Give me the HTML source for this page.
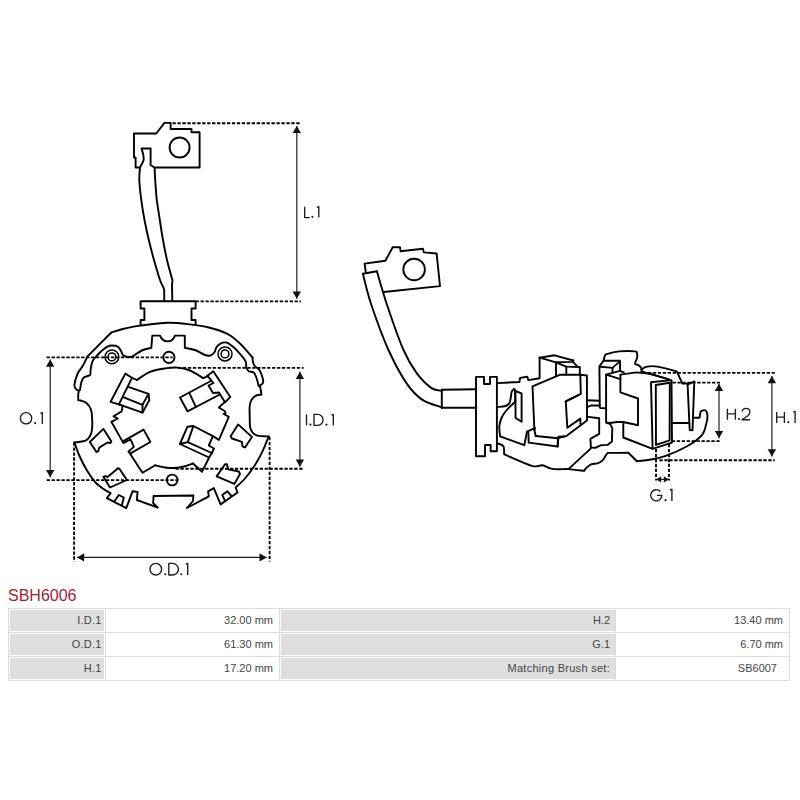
<!DOCTYPE html>
<html><head><meta charset="utf-8">
<style>
html,body{margin:0;padding:0;background:#fff;width:800px;height:800px;overflow:hidden}
body{position:relative;font-family:"Liberation Sans",sans-serif}
svg{position:absolute;left:0;top:0}
.t{position:absolute;white-space:nowrap}
.lbl{font-size:17px;line-height:17px;color:#1a1a1a;letter-spacing:-0.8px}
#title{left:8px;top:586.5px;font-size:16px;color:#a01d36}
.h{position:absolute;background:#dcdcdc;height:1px}
.v{position:absolute;background:#dcdcdc;width:1px}
.g{position:absolute;background:#dedede}
.c{position:absolute;font-size:11px;color:#444;text-align:right;line-height:12px}
</style></head><body>
<svg width="800" height="800" viewBox="0 0 800 800">
<g fill="none" stroke="#000" stroke-width="1.9" stroke-linejoin="round" stroke-linecap="round">
<path d="M134,133.5 H156.3 L164.4,122.9 H170.6 V129 H191.5 V132.3 H199.6 V167.5 H154.4 L150.6,165 V148.5 H141.5 C142.6,152 144.6,157 143.4,161 L140,167.5 H135.6 V157.5 H134 Z"/>
<path d="M140.0,167.5 C139.9,169.6 139.1,174.6 139.3,180.0 C139.5,185.4 140.4,193.3 141.3,200.0 C142.2,206.7 143.2,213.3 144.5,220.0 C145.8,226.7 147.2,233.3 148.8,240.0 C150.4,246.7 152.1,253.3 154.0,260.0 C155.9,266.7 158.4,275.4 160.0,280.0 C161.6,284.6 162.9,286.2 163.5,287.5 L164.2,290 L164.3,301"/>
<path d="M154.6,167.8 C154.7,169.8 154.8,174.6 155.2,180.0 C155.6,185.4 156.1,194.0 156.8,200.0 C157.5,206.0 158.2,209.3 159.2,216.0 C160.2,222.7 161.7,232.7 163.0,240.0 C164.3,247.3 165.4,253.2 167.0,260.0 C168.6,266.8 171.6,277.1 172.5,280.5 L172,285 L172.3,301"/>
<path d="M140.6,324.8 V320 H144.4 V308.5 H140.6 V301.3 H195.6 V308.5 H191.5 V320 H195.6 V324.8"/>
<path d="M111.3,332.5 C113.6,331.8 120.2,329.6 125.0,328.5 C129.8,327.4 132.9,326.6 140.0,325.6 C147.1,324.7 159.2,323.0 167.5,322.8 C175.8,322.6 183.1,323.6 190.0,324.4 C196.9,325.2 202.6,325.9 208.8,327.5 C215.1,329.1 222.7,331.5 227.5,333.8 C232.3,336.1 234.6,338.8 237.5,341.3 C240.4,343.8 242.5,346.1 245.0,348.8 C247.5,351.5 251.2,356.1 252.5,357.5"/>
<path d="M252.5,357.5 C252.6,358.3 252.7,361.0 253.1,362.5 C253.5,364.0 253.9,365.1 255.0,366.3 C256.1,367.6 258.1,368.1 259.4,370.0 C260.6,371.9 261.9,375.4 262.5,377.5 C263.1,379.6 263.5,381.1 263.1,382.5 C262.7,383.9 260.5,385.1 260.0,385.6"/>
<path d="M260,385.6 L261.5,394.6 C260.6,394.8 257.6,394.7 256.0,395.6 C254.3,396.5 252.7,398.1 251.6,399.8 C250.5,401.5 250.0,403.3 249.7,406.0 C249.4,408.7 249.6,412.5 249.7,416.0 C249.8,419.5 249.6,424.3 250.1,427.0 C250.6,429.7 251.2,430.9 252.4,432.4 C253.6,433.8 255.7,435.1 257.5,435.7 C259.3,436.3 261.1,436.1 263.0,436.2 C264.9,436.3 267.7,436.4 268.6,436.4"/>
<path d="M268.6,436.4 C267.6,438.9 264.8,446.5 262.5,451.3 C260.2,456.1 257.9,460.5 255.0,465.0 C252.1,469.5 248.2,474.8 245.0,478.5 C241.8,482.2 237.2,486.0 235.6,487.5 L237.5,492.5 L220.6,504.4 L213.8,488.1 L208.1,491.3 L208.8,496.3 L186.9,508 L193,501 L193.4,495.5 L153.6,496 L153.1,503 L157.8,507.7 L136.9,500 L137.5,491.9 L132.5,491.3 L126.3,508.1 L106.9,498.1 L110.6,493.1 L105,490"/>
<path d="M105.0,490.0 C103.5,488.8 99.0,486.2 96.0,483.0 C93.0,479.8 89.8,475.0 87.0,470.5 C84.2,466.0 81.6,460.7 79.5,456.0 C77.4,451.3 75.2,444.8 74.4,442.5"/>
<path d="M74.4,442.5 C75.7,442.3 80.0,441.9 82.0,441.5 C84.0,441.1 84.9,441.1 86.1,440.3 C87.3,439.6 88.5,438.4 89.4,437.0 C90.3,435.6 91.1,434.0 91.6,432.0 C92.1,430.0 92.2,427.3 92.3,425.0 C92.4,422.7 92.3,420.6 92.1,418.0 C91.9,415.4 91.9,412.1 91.0,409.6 C90.1,407.1 88.2,404.5 86.5,403.0 C84.8,401.5 82.0,401.0 80.6,400.5 C79.2,400.0 78.6,400.2 78.2,400.2 L78.2,395 L78.8,390.6"/>
<path d="M78.8,390.6 C78.4,390.4 77.0,390.3 76.3,389.4 C75.6,388.5 74.2,387.6 74.4,385.0 C74.6,382.4 76.2,376.9 77.5,373.8 C78.8,370.7 80.8,369.2 82.5,366.3 C84.2,363.4 86.7,358.0 87.5,356.3 L111.3,332.5"/>
<path d="M80.0,390.0 C80.2,388.8 80.7,384.6 81.3,382.5 C81.9,380.4 82.3,378.8 83.8,377.5 C85.2,376.2 88.9,376.2 90.0,375.0 C91.1,373.8 90.2,372.3 90.6,370.0 C91.0,367.7 91.3,363.8 92.5,361.3 C93.7,358.8 96.1,356.6 97.5,355.0 C98.9,353.4 99.4,352.9 101.0,351.5 C102.6,350.1 105.1,347.8 106.9,346.8 C108.7,345.8 110.2,345.5 112.0,345.5 C113.8,345.5 116.5,345.9 118.0,346.8 C119.5,347.7 120.1,349.6 121.0,351.0 C121.9,352.4 122.1,354.3 123.2,355.3 C124.3,356.3 126.0,356.7 127.5,356.9 C129.1,357.1 131.0,356.8 132.5,356.3 C134.0,355.8 134.6,354.9 136.3,353.8 C138.1,352.8 140.5,351.0 143.0,350.0 C145.5,349.0 149.9,348.2 151.3,347.8 L152.3,335.6 L160,335.6 C162,341 166,341.5 168.8,341.3 C172,341 174,338 175,335.6 L184.8,335.6 L184.8,347.8 C186.5,348.2 191.6,348.8 195.0,350.0 C198.4,351.2 202.5,354.1 205.0,355.0 C207.5,355.9 208.4,356.0 210.0,355.6 C211.6,355.2 213.3,353.9 214.4,352.5 C215.5,351.1 215.4,348.9 216.3,347.5 C217.2,346.1 218.3,344.6 220.0,343.8 C221.7,343.0 224.2,342.1 226.3,342.5 C228.4,342.9 230.2,344.4 232.5,346.3 C234.8,348.2 237.8,351.3 240.0,353.8 C242.2,356.3 244.5,359.0 245.6,361.3 C246.7,363.6 245.8,365.8 246.3,367.5 C246.8,369.2 247.6,370.5 248.8,371.3 C250.1,372.1 252.6,371.5 253.8,372.5 C255.1,373.5 255.5,375.2 256.3,377.5 C257.1,379.8 258.4,384.8 258.8,386.3"/>
<path d="M136.9,380  C139.1,378.6 145.3,373.7 150.0,371.8 C154.7,369.9 160.3,369.1 165.0,368.4 C169.7,367.7 173.8,367.2 178.0,367.6 C182.2,368.0 185.8,368.8 190.0,370.5 C194.2,372.2 200.9,376.8 203.1,378.1 L207.5,376.3"/>
<path d="M207.5,375.8 L213.3,371.3 L230.3,397.0 L225.0,402.3"/>
<path d="M207.5,375.8 L213.5,383.0 L208.5,385.5 L213.0,393.0 L219.0,392.5 L225.0,402.3"/>
<path d="M210.8,381.0 L180.0,397.5 L187.5,411.3 L219.8,394.5"/>
<path d="M189.4,393.1 L195.6,406.3"/>
<path d="M225.0,401.9 L218.8,407.5 L225.0,411.3 L225.6,413.1 L223.5,413.8 L228.8,416.9 L218.9,439.9 L212.9,436.1"/>
<path d="M193.4,426.0 L187.4,426.8 L179.9,444.0 L187.8,442.1 L193.4,426.0 L212.9,436.1 L208.8,445.5 L214.0,448.5 L211.8,453.0 L209.1,457.5 L202.0,471.8 L193.0,463.5"/>
<path d="M187.8,442.1 L211.8,453.0"/>
<path d="M179.9,444.0 L209.1,457.5"/>
<path d="M193.0,463.5 C191.5,464.0 187.0,465.8 184.0,466.5 C181.0,467.2 178.2,467.8 175.0,468.0 C171.8,468.2 168.3,467.9 165.0,467.5 C161.7,467.1 156.9,465.7 155.3,465.3"/>
<path d="M155.3,465.3 L142.5,472.8 L128.6,451.4 L133.9,446.9 L130.5,439.4 L123.4,443.1 L111.4,421.8 L117.8,418.5 L113.5,416.3 L121.6,411.5 L122.6,405.9 L118.9,404.4"/>
<path d="M123.8,440.9 L143.6,429.6 L150.4,442.0 L130.5,453.3 L128.6,451.4"/>
<path d="M125.3,373.6 L132.0,377.8 L118.9,404.4 L110.6,401.8 Z"/>
<path d="M132.0,377.8 L136.9,380.0"/>
<path d="M128.3,386.8 L148.5,393.9 L149.3,400.3 L142.5,412.6 L118.9,404.4"/>
<path d="M123.8,397.3 L142.5,404.8 L148.5,393.9"/>
<path d="M142.5,404.8 L142.5,412.6"/>
<path d="M89.8,442.0 L103.4,428.9 L111.4,441.6 L110.5,443.0 L107.6,442.5 L99.2,447.6 L98.3,451.4 L96.4,451.9 Z"/>
<path d="M103.4,476.7 L105.5,476.2 L107.5,477.0 L116.6,469.6 L117.5,468.3 L119.4,468.7 L126.9,480.0 L110.0,487.5 Z"/>
<path d="M216.6,476.4 L225.0,464.2 L226.9,464.2 L228.3,469.4 L238.8,471.5 L240.0,474.0 L234.4,483.9 Z"/>
<path d="M230.6,436.3 L238.1,424.4 L251.9,436.9 L245.0,447.5 L242.5,446.3 L241.9,441.9 L232.0,438.5 Z"/>
<path d="M114.4,501.3 L118.8,495.0 L123.8,497.5 L121.9,505.0"/>
<path d="M224.8,500.3 L222.3,495.0 L227.3,491.3 L231.5,496.0"/>
<path d="M365.7,271.5 L364.6,263.6 L385.4,260.8 L392.7,247.3 L400.0,247.3 L400.6,251.3 L423.0,248.8 L423.8,252.4 L436.6,253.5 L440.0,286.1 L383.7,292.0"/>
<path d="M362.9,273.8 L376.9,271.3"/>
<path d="M362.9,273.8 C364.3,278.9 367.0,292.0 371.3,304.7 C375.6,317.4 382.6,336.9 388.5,350.0 C394.4,363.1 401.1,375.3 406.8,383.6 C412.5,391.9 416.7,395.9 422.5,399.9 C428.3,403.8 438.6,406.1 441.8,407.3"/>
<path d="M376.9,271.3 C378.6,276.9 382.6,291.6 387.0,304.7 C391.4,317.8 398.5,338.6 403.5,350.0 C408.5,361.4 412.2,367.0 416.9,373.4 C421.6,379.8 427.4,385.2 431.5,388.1 C435.6,391.0 440.1,390.4 441.8,390.8"/>
<path d="M441.8,389.8 L441.8,407.8"/>
<path d="M441.8,389.8 L476.3,389.2"/>
<path d="M441.8,407.8 L476.3,407.8"/>
<path d="M476.0,376.9 L484.0,376.9 L484.0,384.0 L490.0,384.0 L490.0,376.9 L496.9,376.9 L496.9,451.3 L490.6,451.3 L490.6,445.0 L485.0,445.0 L485.0,456.3 L476.0,456.3 Z"/>
<path d="M496.9,383.1 L519.4,382.0 L520.1,377.9 L527.3,376.8 L528.4,380.1 L539.6,378.3 L539.6,357.7"/>
<path d="M496.9,407.1 C498.3,406.9 503.4,406.7 505.5,406.0 C507.6,405.3 508.6,404.7 509.5,403.0 C510.4,401.3 510.7,397.8 511.0,396.0 C511.3,394.2 511.2,393.5 511.5,392.5 C511.8,391.5 512.4,390.3 513.0,389.9 C513.6,389.5 514.5,388.0 514.9,389.9 C515.3,391.8 515.2,399.6 515.3,401.5"/>
<path d="M515.3,401.5 C513.8,403.0 508.6,407.8 506.3,410.5 C504.0,413.2 502.6,415.5 501.5,418.0 C500.4,420.5 499.7,423.2 499.4,425.5 C499.1,427.8 499.5,430.2 499.6,432.0 C499.7,433.8 500.1,435.7 500.2,436.4"/>
<path d="M515.3,391.0 L521.6,393.3 L521.6,421.8 L515.6,418.0 Z"/>
<path d="M500.2,436.4 L524.3,445.2 L527.0,431.6 L534.8,428.1"/>
<path d="M528.3,431.6 L528.7,442.6 L557.6,446.5 L558.0,438.2 L565.0,436.4"/>
<path d="M535.7,436.0 L558.0,438.2"/>
<path d="M497.6,443.4 C498.6,443.8 502.2,444.3 503.3,446.1 C504.4,447.9 504.1,453.0 504.2,454.4 L504.2,454.4 C508.8,456.3 525.4,464.0 531.8,465.8 C538.1,467.6 539.3,464.9 542.3,465.3 C545.3,465.7 547.2,467.6 550.0,468.3 C552.8,469.0 555.7,469.2 558.8,469.3 C561.9,469.4 564.2,468.8 568.4,469.1 C572.6,469.4 581.5,470.6 584.1,470.9 L584.1,470.9 C584.5,470.3 585.6,468.5 586.8,467.4 C588.0,466.3 589.4,465.0 591.1,464.3 C592.9,463.6 595.4,464.0 597.3,463.4 C599.2,462.8 601.0,461.8 602.5,460.4 C604.0,459.0 605.1,456.4 606.0,455.1 C606.9,453.9 607.5,453.3 607.8,452.9 L620,452.9 L628.4,452.8 L636.9,461.2"/>
<path d="M568.4,469.1 L590.7,448.6"/>
<path d="M539.6,357.7 L554.5,355.3 L573.3,360.5"/>
<path d="M539.6,357.7 L556.0,362.3 L573.0,361.9 L573.3,360.5"/>
<path d="M556.0,362.3 L556.0,375.5"/>
<path d="M557.0,362.8 L566.3,366.6 L579.8,367.0 L579.8,375.0"/>
<path d="M573.0,361.9 L577.0,366.1"/>
<path d="M566.3,366.6 L566.3,374.8"/>
<path d="M534.4,430.0 L532.5,386.3 L559.7,374.8 L580.3,374.8 L580.8,393.8 L565.8,401.3 L567.3,427.8 L580.4,418.6 L580.4,423.9"/>
<path d="M580.3,374.8 L586.9,375.5 L587.0,420.4 L566.4,436.1 L558.5,436.6 L557.6,446.6"/>
<path d="M565.5,401.6 L578.6,395.0"/>
<path d="M534.8,428.1 L534.4,430.0 L535.7,436.0"/>
<path d="M587.0,400.3 L599.2,400.7"/>
<path d="M587.5,407.0 L590.8,405.5 L599.5,405.5"/>
<path d="M588.3,416.9 L599.2,418.2 L599.2,433.9 L590.4,438.8 L590.9,447.5 L595.3,447.9 L600.5,445.3 L607.5,444.9 L611.9,441.4 L612.3,428.3 L610.1,423.9 L607.0,423.0"/>
<path d="M606.2,408.3 L600.5,408.0 L599.8,407.5 L599.4,366.4 L603.5,360.8 L620.0,360.8 L620.0,370.1"/>
<path d="M600.5,366.8 L612.5,367.9 L619.3,361.9"/>
<path d="M612.5,367.9 L612.5,372.0"/>
<path d="M603.5,360.4 C603.8,359.6 604.4,356.6 605.0,355.5 C605.6,354.4 604.9,354.7 607.3,354.0 C609.7,353.3 614.7,351.8 619.3,351.4 C623.9,351.0 632.1,351.1 635.0,351.4 C637.9,351.7 636.5,352.4 636.9,353.3 C637.3,354.2 637.6,355.2 637.3,357.0 C637.0,358.8 634.9,362.5 635.0,363.8 C635.1,365.1 637.0,364.3 638.0,364.9 C639.0,365.5 640.4,366.5 641.0,367.5 C641.6,368.5 641.7,370.3 641.8,370.9"/>
<path d="M623.3,422.0 L617.0,422.0 L610.0,423.0 L606.1,422.5 L606.1,374.6 L620.0,370.9 L623.8,372.4"/>
<path d="M606.1,374.6 L620.4,379.1"/>
<path d="M620.4,374.6 L620.4,392.3 L638.0,398.5 L638.0,425.3 L623.3,422.0 L623.3,437.5 L652.6,448.8"/>
<path d="M620.4,374.6 L636.5,372.4 L650.5,373.9 L668.9,379.3"/>
<path d="M641.3,371.4 L668.9,379.3"/>
<path d="M651.0,382.3 L671.5,380.1 L672.0,442.6 L652.6,448.8 Z"/>
<path d="M655.8,385.0 L669.8,382.8 L669.6,440.4 L656.0,444.9 Z"/>
<path d="M641.3,369.6 C642.2,369.1 644.3,367.1 647.0,366.6 C649.7,366.1 652.5,365.8 657.5,366.6 C662.5,367.4 673.6,370.6 676.8,371.4 L682.4,383.6 L688,383.6"/>
<path d="M672.4,423.0 L689.1,423.0"/>
<path d="M687.6,384.7 L694.3,381.4 L692.5,430.3 L689.7,430.0 Z"/>
<path d="M693.6,417.8 L699.5,417.8 L700.6,411.6 L700.6,411.6 C701.0,411.4 702.2,410.5 703.0,410.3 C703.8,410.1 704.9,409.9 705.6,410.4 C706.3,410.9 706.9,412.2 707.2,413.5 C707.5,414.8 707.5,416.3 707.4,418.0 C707.2,419.7 707.2,420.7 706.3,423.5 C705.4,426.3 705.2,431.1 702.1,434.8 C699.0,438.6 693.7,442.4 687.5,446.0 C681.3,449.6 671.6,453.8 665.0,456.1 C658.4,458.4 652.8,459.1 648.1,460.0 C643.4,460.9 638.8,461.0 636.9,461.2"/>
<circle cx="179.6" cy="147.5" r="10"/>
<circle cx="168.9" cy="357.4" r="5.6"/>
<circle cx="172.2" cy="480" r="5.4"/>
<circle cx="414.1" cy="269.5" r="10.8"/>
<circle stroke-width="1.5" cx="111.9" cy="356.9" r="6.9"/>
<circle stroke-width="1.5" cx="111.9" cy="356.9" r="3.9"/>
<circle stroke-width="1.5" cx="225" cy="353.9" r="7.0"/>
<circle stroke-width="1.5" cx="225" cy="353.9" r="3.9"/>
</g>
<g fill="none" stroke="#000" stroke-width="1.85" stroke-dasharray="3.3,1.65">
<line x1="172.5" y1="123.2" x2="301" y2="123.2"/>
<line x1="195.6" y1="301.4" x2="301" y2="301.4"/>
<line x1="46.6" y1="357.3" x2="172.6" y2="357.3"/>
<line x1="46.6" y1="480.1" x2="177" y2="480.1"/>
<line x1="178" y1="367.8" x2="303.6" y2="367.8"/>
<line x1="175.5" y1="468.7" x2="303.6" y2="468.7"/>
<line x1="74.1" y1="442.5" x2="74.1" y2="561.5"/>
<line x1="269.6" y1="437" x2="269.6" y2="561.5"/>
<line x1="643" y1="372.8" x2="774.8" y2="372.8"/>
<line x1="659.4" y1="460.2" x2="774.8" y2="460.2"/>
<line x1="672.5" y1="382.6" x2="720" y2="382.6"/>
<line x1="671.8" y1="441.1" x2="720" y2="441.1"/>
<line x1="656" y1="449" x2="656" y2="480.5"/>
<line x1="669" y1="444" x2="669" y2="480.5"/>
</g>
<g stroke="#222" stroke-width="1.2" fill="#111">
<line x1="296.8" y1="125.9" x2="296.8" y2="298.8"/>
<path stroke="none" d="M296.8,125.9 L292.6,133.1 L301.0,133.1 Z"/>
<path stroke="none" d="M296.8,298.8 L301.0,291.6 L292.6,291.6 Z"/>
<line x1="50.2" y1="359.6" x2="50.2" y2="477.2"/>
<path stroke="none" d="M50.2,359.6 L46.0,366.8 L54.4,366.8 Z"/>
<path stroke="none" d="M50.2,477.2 L54.4,470.0 L46.0,470.0 Z"/>
<line x1="299.9" y1="371.8" x2="299.9" y2="466.8"/>
<path stroke="none" d="M299.9,371.8 L295.7,379.0 L304.1,379.0 Z"/>
<path stroke="none" d="M299.9,466.8 L304.1,459.6 L295.7,459.6 Z"/>
<line x1="77" y1="557.4" x2="266.7" y2="557.4"/>
<path stroke="none" d="M77.0,557.4 L84.2,561.6 L84.2,553.2 Z"/>
<path stroke="none" d="M266.7,557.4 L259.5,553.2 L259.5,561.6 Z"/>
<line x1="771.9" y1="376" x2="771.9" y2="456.4"/>
<path stroke="none" d="M771.9,376.0 L767.7,383.2 L776.1,383.2 Z"/>
<path stroke="none" d="M771.9,456.4 L776.1,449.2 L767.7,449.2 Z"/>
<line x1="719" y1="383.8" x2="719" y2="438.2"/>
<path stroke="none" d="M719.0,383.8 L714.8,391.0 L723.2,391.0 Z"/>
<path stroke="none" d="M719.0,438.2 L723.2,431.0 L714.8,431.0 Z"/>
<line x1="656.2" y1="479.4" x2="668.8" y2="479.4"/>
<path stroke="none" d="M656.2,479.4 L661.2,482.5 L661.2,476.3 Z"/>
<path stroke="none" d="M668.8,479.4 L663.8,476.3 L663.8,482.5 Z"/>
</g>
<g fill="none" stroke="#1c1c1c" stroke-width="1.35" stroke-linejoin="round" stroke-linecap="butt">
<path d="M304.70,206.70 V217.60 H309.80"/>
<path d="M316.90,207.40 L318.80,206.70 V217.60"/>
<path d="M20.40,418.25 A5.65,5.65 0 1 0 31.70,418.25 A5.65,5.65 0 1 0 20.40,418.25 Z"/>
<path d="M40.40,413.30 L42.30,412.60 V423.90"/>
<path d="M306.50,414.40 V425.40"/>
<path d="M314.00,414.40 V425.40 H317.60 A5.50,5.50 0 0 0 317.60,414.40 Z"/>
<path d="M331.40,415.10 L333.30,414.40 V425.40"/>
<path d="M150.00,569.20 A5.80,5.80 0 1 0 161.60,569.20 A5.80,5.80 0 1 0 150.00,569.20 Z"/>
<path d="M168.80,563.40 V575.00 H172.60 A5.80,5.80 0 0 0 172.60,563.40 Z"/>
<path d="M185.80,564.10 L187.70,563.40 V575.00"/>
<path d="M727.40,408.70 V419.70 M735.40,408.70 V419.70 M727.40,413.87 H735.40"/>
<path d="M742.05,411.70 C742.40,409.40 744.10,408.30 745.85,408.30 C748.30,408.30 749.90,409.90 749.90,412.00 C749.90,413.50 749.00,414.70 747.90,415.80 L741.80,419.70 H750.10"/>
<path d="M776.70,411.90 V422.90 M784.40,411.90 V422.90 M776.70,417.07 H784.40"/>
<path d="M793.20,412.20 L795.10,411.50 V422.90"/>
<path d="M660.46,491.55 A5.60,5.60 0 1 0 661.90,495.30 H656.90"/>
<path d="M670.00,490.00 L671.90,489.30 V500.90"/>
</g><g fill="#1c1c1c">
<circle cx="312.40" cy="216.85" r="1.05"/>
<circle cx="35.20" cy="423.15" r="1.05"/>
<circle cx="310.40" cy="424.65" r="1.05"/>
<circle cx="326.40" cy="424.65" r="1.05"/>
<circle cx="165.30" cy="574.25" r="1.05"/>
<circle cx="181.20" cy="574.25" r="1.05"/>
<circle cx="739.00" cy="418.95" r="1.05"/>
<circle cx="788.30" cy="422.15" r="1.05"/>
<circle cx="665.50" cy="500.15" r="1.05"/>
</g></svg>
<div class="t" id="title">SBH6006</div>
<!-- table -->
<div class="h" style="left:8px;top:608px;width:782px"></div>
<div class="h" style="left:8px;top:632px;width:782px"></div>
<div class="h" style="left:8px;top:656px;width:782px"></div>
<div class="h" style="left:8px;top:680px;width:782px"></div>
<div class="v" style="left:8px;top:608px;height:73px"></div>
<div class="v" style="left:105px;top:608px;height:73px"></div>
<div class="v" style="left:279px;top:608px;height:73px"></div>
<div class="v" style="left:615px;top:608px;height:73px"></div>
<div class="v" style="left:789px;top:608px;height:73px"></div>
<div class="g" style="left:10px;top:610px;width:94px;height:21px"></div>
<div class="g" style="left:10px;top:634px;width:94px;height:21px"></div>
<div class="g" style="left:10px;top:658px;width:94px;height:21px"></div>
<div class="g" style="left:281px;top:610px;width:334px;height:21px"></div>
<div class="g" style="left:281px;top:634px;width:334px;height:21px"></div>
<div class="g" style="left:281px;top:658px;width:334px;height:21px"></div>
<div class="c" style="left:10px;width:91.5px;top:614px;letter-spacing:0.2px">I.D.1</div>
<div class="c" style="left:10px;width:91.5px;top:638px;letter-spacing:0.2px">O.D.1</div>
<div class="c" style="left:10px;width:91.5px;top:662px;letter-spacing:0.2px">H.1</div>
<div class="c" style="left:106px;width:167px;top:614px">32.00 mm</div>
<div class="c" style="left:106px;width:167px;top:638px">61.30 mm</div>
<div class="c" style="left:106px;width:167px;top:662px">17.20 mm</div>
<div class="c" style="left:281px;width:329px;top:614px">H.2</div>
<div class="c" style="left:281px;width:329px;top:638px">G.1</div>
<div class="c" style="left:281px;width:329px;top:662px;letter-spacing:0.28px">Matching Brush set:</div>
<div class="c" style="left:616px;width:167px;top:614px">13.40 mm</div>
<div class="c" style="left:616px;width:167px;top:638px">6.70 mm</div>
<div class="c" style="left:616px;width:161px;top:662px">SB6007</div>
<!-- labels -->
</body></html>
